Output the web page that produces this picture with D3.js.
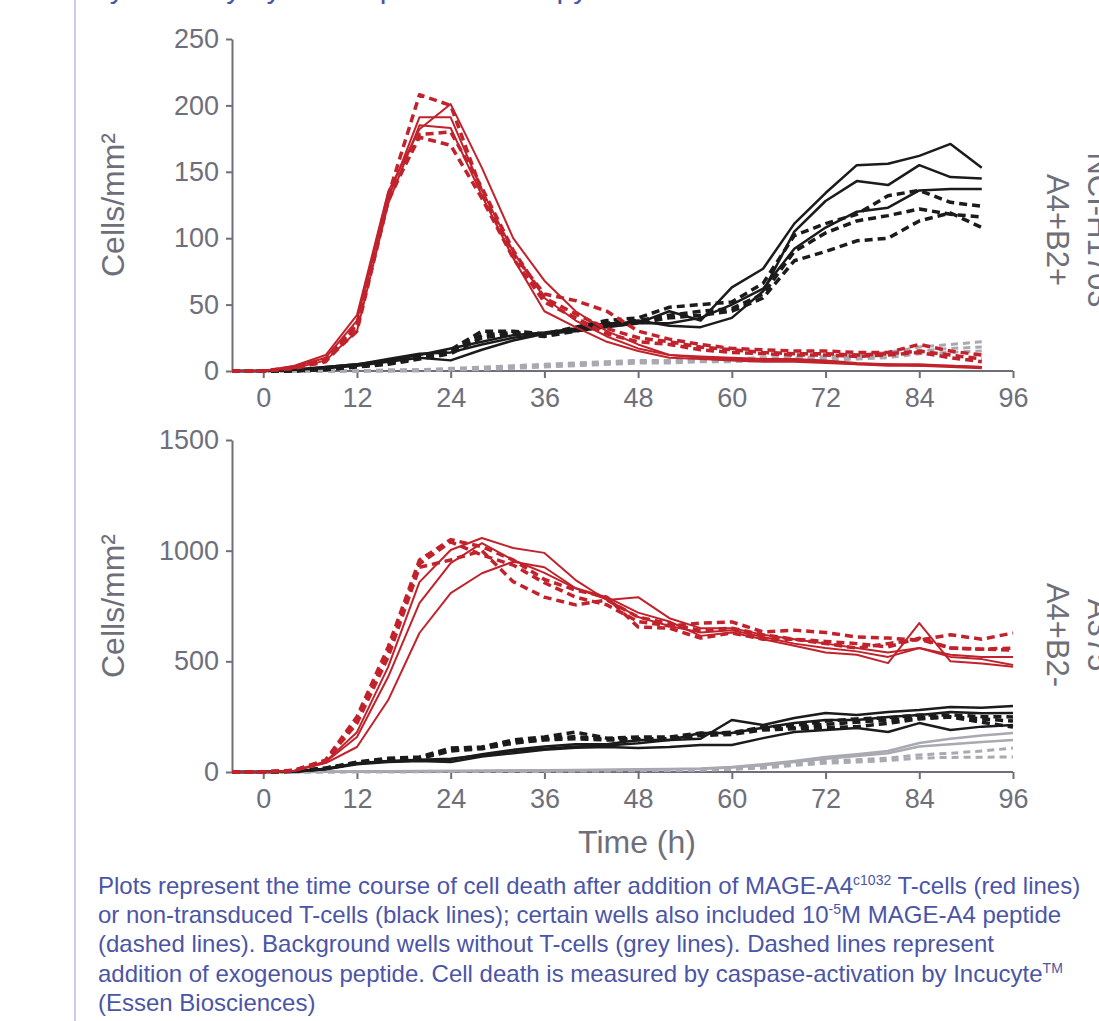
<!DOCTYPE html>
<html>
<head>
<meta charset="utf-8">
<script src="https://cdn.jsdelivr.net/npm/d3@7"></script>
<style>
  html, body { margin: 0; padding: 0; background: #ffffff; }
  svg { display: block; }
</style>
</head>
<body>
<script>
// ---------------- DATA ----------------
const timesTop = [-4,0,4,8,12,16,20,24,28,32,36,40,44,48,52,56,60,64,68,72,76,80,84,88,92];
const timesBottom = [-4,0,4,8,12,16,20,24,28,32,36,40,44,48,52,56,60,64,68,72,76,80,84,88,92,96];
const xTicks = [0,12,24,36,48,60,72,84,96];
const yTicksTop = [0,50,100,150,200,250];
const yTicksBottom = [0,500,1000,1500];

// Top panel (A4+B2+)
const topRedSolid = [
  [0,0,4,12,42,135,182,201,153,100,68,45,30,20,12,10,9,8,8,7,5,5,4,4,3],
  [0,0,3,10,38,130,191,191,136,90,55,38,26,17,12,11,10,9,9,8,6,5,5,4,3],
  [0,0,2,8,30,126,185,183,132,85,45,33,22,15,10,9,8,7,7,6,5,4,4,3,2]
];
const topRedDashed = [
  [0,0,3,9,35,132,208,200,135,88,58,53,45,30,24,20,17,16,15,15,14,14,20,15,12],
  [0,0,2,8,30,128,178,180,138,91,55,43,32,25,22,18,16,14,13,13,12,13,15,12,9],
  [0,0,2,7,34,130,176,170,130,85,52,40,28,22,20,16,14,13,12,12,11,12,14,10,7]
];
const topBlackSolid = [
  [0,0,1,3,5,8,12,17,22,27,29,32,36,36,45,38,63,77,111,134,155,156,162,171,153],
  [0,0,1,3,5,9,13,14,20,25,28,31,34,38,34,33,40,60,105,128,143,140,155,146,145],
  [0,0,1,2,4,7,10,8,16,23,28,30,33,36,36,40,50,62,92,108,120,123,136,137,137]
];
const topBlackDashed = [
  [0,0,1,2,4,6,10,16,30,30,28,33,38,40,48,50,52,66,102,111,118,132,136,127,124],
  [0,0,0,2,4,6,11,15,27,29,27,32,36,38,42,45,47,58,90,104,113,117,122,118,116],
  [0,0,0,1,3,5,9,13,25,28,26,30,34,36,40,42,45,55,83,90,98,100,113,119,108]
];
const topGreyDashed = [
  [0,0,0,0,0,1,1,2,3,4,5,6,7,8,8,9,9,10,10,11,12,14,18,20,22],
  [0,0,0,0,0,0,1,1,2,3,4,5,6,7,7,8,8,9,9,10,11,12,15,17,18],
  [0,0,0,0,0,0,0,1,1,2,3,4,5,6,6,7,7,8,8,8,9,10,13,14,15]
];

// Bottom panel (A4+B2-)
const bottomRedSolid = [
  [0,0,5,40,113,325,628,808,898,950,925,830,780,700,660,630,640,610,580,560,545,520,560,530,520,520],
  [0,0,6,45,158,430,763,944,1034,958,900,830,790,720,680,615,630,600,570,540,530,492,673,500,490,475],
  [0,0,6,48,180,475,858,1003,1057,1012,990,867,777,790,695,650,650,620,600,580,560,540,560,520,510,483]
];
const bottomRedDashed = [
  [0,0,8,54,250,565,958,1050,1018,958,870,822,790,655,650,605,628,600,600,590,580,565,605,560,555,560],
  [0,0,7,50,235,540,940,1040,980,935,855,790,755,680,660,673,678,633,641,630,610,605,596,620,600,628],
  [0,0,7,52,220,520,925,958,1000,860,790,755,777,700,670,640,650,620,600,580,560,580,600,560,555,551]
];
const bottomBlackSolid = [
  [0,0,3,15,40,50,55,60,77,95,105,115,120,130,145,150,235,212,244,267,258,271,280,294,290,298],
  [0,0,3,14,38,48,52,55,80,100,115,125,125,145,145,176,176,200,221,235,235,249,258,271,265,267],
  [0,0,2,12,35,45,50,45,70,85,100,110,113,108,113,122,122,153,181,190,199,181,221,190,205,212]
];
const bottomBlackDashed = [
  [0,0,4,18,45,62,68,108,113,145,158,180,153,158,158,176,176,203,210,230,240,245,258,258,250,249],
  [0,0,4,17,42,58,64,100,110,135,150,160,150,150,150,170,180,195,200,215,225,235,245,250,240,230],
  [0,0,3,16,40,55,60,95,105,130,145,150,145,145,150,165,170,190,195,200,205,220,240,248,225,203]
];
const bottomGreySolid = [
  [0,0,0,1,2,3,4,5,6,7,8,9,10,12,14,16,23,35,50,68,80,95,131,150,165,176],
  [0,0,0,1,2,3,3,4,5,6,7,8,9,10,12,14,20,30,45,60,72,85,115,125,135,145]
];
const bottomGreyDashed = [
  [0,0,0,0,1,1,2,2,3,3,4,5,6,7,8,10,14,22,40,50,55,63,77,85,95,108],
  [0,0,0,0,1,1,1,2,2,3,3,4,5,6,7,8,12,18,30,40,45,52,63,66,67,68]
];

const panelLabels = ["A4+B2+", "A4+B2-"];
const cellLineLabels = ["NCI-H1703", "A375"];
const yLabel = "Cells/mm²";
const xLabel = "Time (h)";
const titleText = "Cytotoxicity by time-lapse microscopy";

// ---------------- DRAW ----------------
const W = 1099, H = 1021;
const FONT = "'Liberation Sans', Arial, Helvetica, sans-serif";
const AXIS = "#6e6f7a";
const RED = "#c1222b", BLACK = "#1b1b1b", GREY = "#a8a9b1";
const BLUE = "#4b55a6";

const svg = d3.select("body").append("svg").attr("width", W).attr("height", H);

// left border line
svg.append("line").attr("x1", 75).attr("x2", 75).attr("y1", 0).attr("y2", 1021)
  .attr("stroke", "#c8cbe2").attr("stroke-width", 2);

// title (cut off by top edge in the reference)
svg.append("text").attr("x", 88).attr("y", -2).attr("font-family", FONT)
  .attr("font-size", 30).attr("fill", BLUE).text(titleText);

const x = d3.scaleLinear().domain([-4, 96]).range([232, 1013]);

function panel(cfg) {
  const y = d3.scaleLinear().domain(cfg.domain).range([cfg.y0, cfg.y1]);
  const g = svg.append("g");

  const xa = g.append("g").attr("transform", `translate(0,${cfg.y0})`)
    .call(d3.axisBottom(x).tickValues(xTicks).tickSize(7).tickSizeOuter(0).tickPadding(10));
  const ya = g.append("g").attr("transform", `translate(232,0)`)
    .call(d3.axisLeft(y).tickValues(cfg.ticks).tickFormat(d3.format("d"))
      .tickSize(6).tickSizeOuter(0).tickPadding(7));
  [xa, ya].forEach(a => {
    a.select(".domain").attr("stroke", AXIS).attr("stroke-width", 2);
    a.selectAll(".tick line").attr("stroke", AXIS).attr("stroke-width", 2);
    a.selectAll(".tick text").attr("fill", AXIS).attr("font-size", 27).attr("font-family", FONT);
  });
  xa.select(".domain").attr("d", `M${232},0H${x(96)}`);

  const line = d3.line().x((d, i) => x(cfg.times[i])).y(d => y(d));
  const groups = [
    {data: cfg.greySolid || [], color: GREY, w: 2.5, dash: null},
    {data: cfg.greyDashed, color: GREY, w: 3, dash: "7,5"},
    {data: cfg.blackSolid, color: BLACK, w: 2.5, dash: null},
    {data: cfg.blackDashed, color: BLACK, w: 3.5, dash: "8,5"},
    {data: cfg.redSolid, color: RED, w: 2, dash: null},
    {data: cfg.redDashed, color: RED, w: 3.5, dash: "8,5"}
  ];
  groups.forEach(gr => {
    g.selectAll(null).data(gr.data).enter().append("path")
      .attr("d", line).attr("fill", "none").attr("stroke", gr.color)
      .attr("stroke-width", gr.w).attr("stroke-linejoin", "round")
      .attr("stroke-dasharray", gr.dash);
  });

  const cy = (cfg.y0 + cfg.y1) / 2;
  g.append("text").attr("transform", `translate(124,${cy}) rotate(-90)`)
    .attr("text-anchor", "middle").attr("font-family", FONT).attr("font-size", 32)
    .attr("fill", AXIS).text(yLabel);
  g.append("text").attr("transform", `translate(1047,${cfg.rightY}) rotate(90)`)
    .attr("text-anchor", "middle").attr("font-family", FONT).attr("font-size", 31)
    .attr("fill", AXIS).text(cfg.label);
  g.append("text").attr("transform", `translate(1088,${cfg.rightY}) rotate(90)`)
    .attr("text-anchor", "middle").attr("font-family", FONT).attr("font-size", 31)
    .attr("fill", AXIS).text(cfg.cellLine);
}

panel({
  domain: [0, 250], y0: 371, y1: 39, ticks: yTicksTop, times: timesTop,
  redSolid: topRedSolid, redDashed: topRedDashed,
  blackSolid: topBlackSolid, blackDashed: topBlackDashed,
  greyDashed: topGreyDashed, label: panelLabels[0], cellLine: cellLineLabels[0], rightY: 230
});
panel({
  domain: [0, 1500], y0: 772, y1: 440, ticks: yTicksBottom, times: timesBottom,
  redSolid: bottomRedSolid, redDashed: bottomRedDashed,
  blackSolid: bottomBlackSolid, blackDashed: bottomBlackDashed,
  greySolid: bottomGreySolid, greyDashed: bottomGreyDashed,
  label: panelLabels[1], cellLine: cellLineLabels[1], rightY: 635
});

svg.append("text").attr("x", 637).attr("y", 853).attr("text-anchor", "middle")
  .attr("font-family", FONT).attr("font-size", 32).attr("fill", AXIS).text(xLabel);

// caption
const cap = svg.append("g").attr("font-family", FONT).attr("font-size", 24).attr("fill", BLUE);
const capLines = [
  [["Plots represent the time course of cell death after addition of MAGE-A4", 0], ["c1032", 1], [" T-cells (red lines)", 0]],
  [["or non-transduced T-cells (black lines); certain wells also included 10", 0], ["-5", 1], ["M MAGE-A4 peptide", 0]],
  [["(dashed lines). Background wells without T-cells (grey lines). Dashed lines represent", 0]],
  [["addition of exogenous peptide. Cell death is measured by caspase-activation by Incucyte", 0], ["TM", 1]],
  [["(Essen Biosciences)", 0]]
];
capLines.forEach((parts, i) => {
  const t = cap.append("text").attr("x", 98).attr("y", 894 + i * 29.2);
  parts.forEach(([s, sup], j) => {
    const ts = t.append("tspan").text(s);
    if (sup) ts.attr("font-size", 14).attr("dy", -9);
    else if (j > 0) ts.attr("dy", 9);
  });
});
</script>
</body>
</html>
